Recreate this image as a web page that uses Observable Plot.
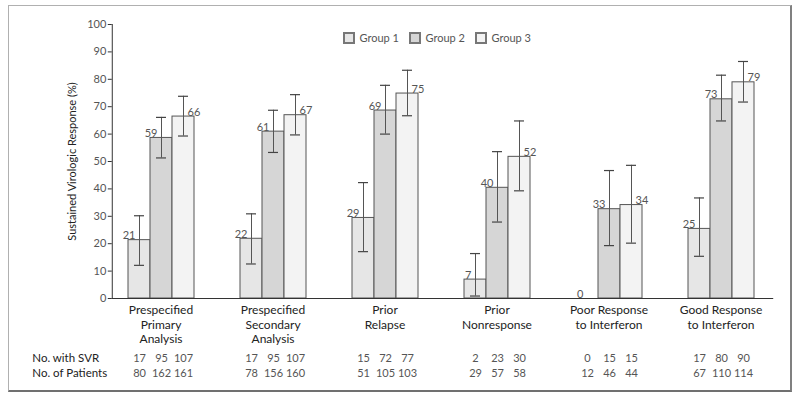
<!DOCTYPE html>
<html><head><meta charset="utf-8">
<script src="https://cdn.jsdelivr.net/npm/d3@7"></script>
<script src="https://cdn.jsdelivr.net/npm/@observablehq/plot@0.6"></script>
<style>
body{margin:0;background:#fff;font-family:Lato,"Open Sans",sans-serif;}
#wrap{position:relative;width:800px;height:403px;overflow:hidden;}
#border{position:absolute;left:8px;top:5px;width:781px;height:384px;border:1px solid #b0b0b0;border-right:2px solid #808080;border-bottom:2px solid #707070;pointer-events:none;}
#legend{position:absolute;left:344px;top:21px;}
#legend span{color:#555;}
#legend svg rect{stroke:#777;stroke-width:2px;}
</style></head>
<body>
<div id="wrap"><div id="chart"></div><div id="legend"></div><div id="border"></div></div>
<script>
const categories = ["Prespecified Primary Analysis","Prespecified Secondary Analysis","Prior Relapse","Prior Nonresponse","Poor Response to Interferon","Good Response to Interferon"];
const categoryLabels = ["Prespecified\nPrimary\nAnalysis","Prespecified\nSecondary\nAnalysis","Prior\nRelapse","Prior\nNonresponse","Poor Response\nto Interferon","Good Response\nto Interferon"];
const groups = ["Group 1","Group 2","Group 3"];
const groupColors = ["#e6e6e6","#d6d6d6","#f3f3f3"];

const g1Value = [21.3, 21.8, 29.4, 6.9, 0, 25.4];
const g2Value = [58.6, 60.9, 68.6, 40.4, 32.6, 72.7];
const g3Value = [66.4, 66.9, 74.8, 51.7, 34.1, 78.9];

const g1Low  = [12.1, 12.6, 17.1, 0.9, null, 15.4];
const g1High = [30.2, 30.9, 42.3, 16.4, null, 36.7];
const g2Low  = [51.3, 53.3, 60.0, 27.9, 19.3, 64.8];
const g2High = [66.1, 68.7, 77.8, 53.6, 46.7, 81.5];
const g3Low  = [59.3, 59.7, 66.7, 39.3, 20.2, 71.7];
const g3High = [73.8, 74.4, 83.3, 64.8, 48.6, 86.5];

const g1SVR = [17, 17, 15, 2, 0, 17];
const g2SVR = [95, 95, 72, 23, 15, 80];
const g3SVR = [107, 107, 77, 30, 15, 90];
const g1Patients = [80, 78, 51, 29, 12, 67];
const g2Patients = [162, 156, 105, 57, 46, 110];
const g3Patients = [161, 160, 103, 58, 44, 114];

const yTicks = [0,10,20,30,40,50,60,70,80,90,100];
const yLabel = "Sustained Virologic Response (%)";
const rowLabels = ["No. with SVR", "No. of Patients"];

const series = [
  [g1Value, g1Low, g1High, g1SVR, g1Patients],
  [g2Value, g2Low, g2High, g2SVR, g2Patients],
  [g3Value, g3Low, g3High, g3SVR, g3Patients]
];
const rows = [];
categories.forEach((c, i) => {
  series.forEach((s, j) => {
    rows.push({category: c, group: groups[j], value: s[0][i], low: s[1][i], high: s[2][i], svr: s[3][i], patients: s[4][i]});
  });
});
const withCI = rows.filter(d => d.low != null);
const leftLabels = rows.filter(d => d.group !== "Group 3");
const rightLabels = rows.filter(d => d.group === "Group 3");
const catRows = categories.map((c, i) => ({category: c, label: categoryLabels[i]}));

const W = 800, ML = 110, MR = 28;
const PI = 0.4, PO = 0.135;
const fxStep = (W - ML - MR) / (categories.length - PI + 2 * PO);
const outerPad = PO * fxStep;          // gap between axis line and first facet
const superLeft = ML + outerPad;       // left edge of the super-facet frame

const font = "Lato, 'Open Sans', sans-serif";
const plot = Plot.plot({
  width: W,
  height: 403,
  marginLeft: ML,
  marginRight: MR,
  marginTop: 24,
  marginBottom: 105,
  style: {fontFamily: font, fontSize: "11px", color: "#333", background: "transparent"},
  fx: {domain: categories, axis: null, paddingInner: PI, paddingOuter: PO},
  x: {domain: groups, axis: null, padding: 0},
  y: {domain: [0, 100], axis: null},
  color: {domain: groups, range: groupColors},
  marks: [
    Plot.barY(rows, {fx: "category", x: "group", y: "value", fill: "group", stroke: "#555", strokeWidth: 1}),
    Plot.ruleX(withCI, {fx: "category", x: "group", y1: "low", y2: "high", stroke: "#555", strokeWidth: 1}),
    Plot.tickY(withCI, {fx: "category", x: "group", y: "high", stroke: "#444", strokeWidth: 1.2, insetLeft: 6, insetRight: 6}),
    Plot.tickY(withCI, {fx: "category", x: "group", y: "low", stroke: "#444", strokeWidth: 1.2, insetLeft: 6, insetRight: 6}),
    Plot.text(leftLabels, {fx: "category", x: "group", y: "value", text: d => String(Math.round(d.value)), textAnchor: "end", lineAnchor: "bottom", dx: -4, dy: -1, fill: "#555", fontSize: 11}),
    Plot.text(rightLabels, {fx: "category", x: "group", y: "value", text: d => String(Math.round(d.value)), textAnchor: "start", lineAnchor: "bottom", dx: 4, dy: -1, fill: "#555", fontSize: 11}),
    Plot.text(catRows, {fx: "category", text: "label", frameAnchor: "bottom", lineAnchor: "top", dy: 6, lineHeight: 1.17, fontSize: 12, fill: "#222"}),
    Plot.text(rows, {fx: "category", x: "group", text: "svr", frameAnchor: "bottom", lineAnchor: "middle", dy: 60, fill: "#555", fontSize: 11}),
    Plot.text(rows, {fx: "category", x: "group", text: "patients", frameAnchor: "bottom", lineAnchor: "middle", dy: 75, fill: "#555", fontSize: 11}),
    Plot.text([rowLabels[0]], {facet: "super", frameAnchor: "bottom-left", textAnchor: "start", lineAnchor: "middle", dx: 30 - superLeft, dy: 60, fill: "#222", fontSize: 11.5}),
    Plot.text([rowLabels[1]], {facet: "super", frameAnchor: "bottom-left", textAnchor: "start", lineAnchor: "middle", dx: 30 - superLeft, dy: 75, fill: "#222", fontSize: 11.5}),
    Plot.text([yLabel], {facet: "super", frameAnchor: "left", textAnchor: "middle", rotate: -90, dx: 70 - superLeft, fill: "#222", fontSize: 11}),
    Plot.axisY({facetAnchor: "left", dx: -outerPad, ticks: yTicks, tickSize: 4, tickPadding: 2, label: null, stroke: "#333", fill: "#555", fontSize: 11}),
    Plot.frame({facet: "super", anchor: "left", dx: -outerPad, stroke: "#333"}),
    Plot.frame({facet: "super", anchor: "bottom", insetLeft: -outerPad, insetRight: -(outerPad + 3), stroke: "#333"})
  ]
});
document.getElementById("chart").appendChild(plot);

const legend = Plot.legend({
  color: {domain: groups, range: groupColors},
  legend: "swatches",
  swatchSize: 10,
  style: {fontFamily: font, fontSize: "11px", color: "#555"}
});
document.getElementById("legend").appendChild(legend);
</script>
</body></html>
